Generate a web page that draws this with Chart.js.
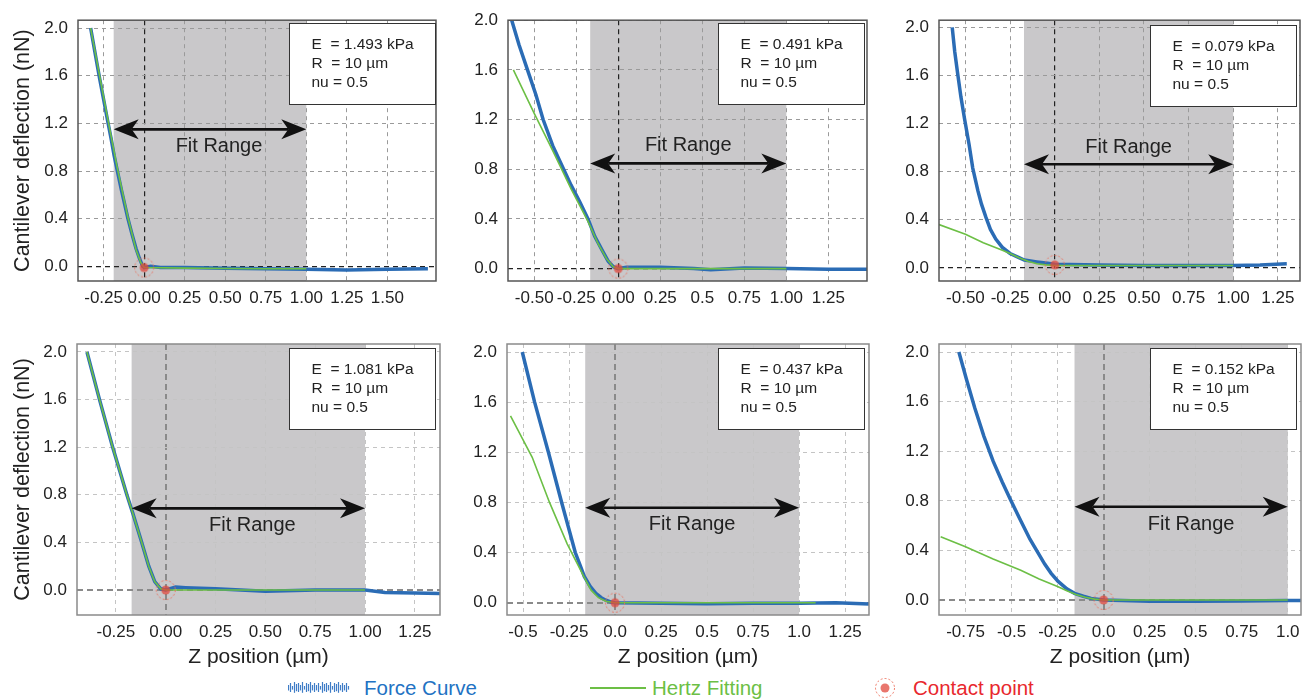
<!DOCTYPE html>
<html>
<head>
<meta charset="utf-8">
<script src="https://cdn.jsdelivr.net/npm/chart.js@4.4.1/dist/chart.umd.min.js"></script>
<style>
  body { margin: 0; background: #fff; width: 1316px; height: 700px; overflow: hidden;
         font-family: "Liberation Sans", Arial, sans-serif; }
  .panel { position: absolute; }
  .leg { position: absolute; font-size: 20.5px; line-height: 24px; top: 676px; white-space: nowrap; }
</style>
</head>
<body>
<canvas id="c1" class="panel"></canvas>
<canvas id="c2" class="panel"></canvas>
<canvas id="c3" class="panel"></canvas>
<canvas id="c4" class="panel"></canvas>
<canvas id="c5" class="panel"></canvas>
<canvas id="c6" class="panel"></canvas>

<canvas id="legForce" class="leg" width="62" height="16" style="left:288px;top:680px"></canvas>
<div class="leg" style="left:364px;color:#2272c3">Force Curve</div>
<div class="leg" style="left:590px;top:687px;width:56px;height:2px;background:#6cbf45"></div>
<div class="leg" style="left:652px;color:#6cbf45">Hertz Fitting</div>
<canvas id="legContact" class="leg" width="24" height="24" style="left:873px;top:676px"></canvas>
<div class="leg" style="left:913px;color:#e8282e">Contact point</div>

<script>
// ---- shared ticks ----
const yTickValues = [0, 0.4, 0.8, 1.2, 1.6, 2.0];
const yTickLabels = ['0.0', '0.4', '0.8', '1.2', '1.6', '2.0'];
const radiusText = '10';
const poissonText = '0.5';

// ---- panel 1 (top left) ----
const xTicks1 = [-0.25, 0, 0.25, 0.5, 0.75, 1.0, 1.25, 1.5];
const xLabels1 = ['-0.25', '0.00', '0.25', '0.50', '0.75', '1.00', '1.25', '1.50'];
const xRange1 = [-0.408, 1.80];
const yRange1 = [-0.123, 2.066];
const force1 = [[-0.33, 2.0], [-0.30, 1.77], [-0.275, 1.58], [-0.25, 1.4], [-0.225, 1.22], [-0.205, 1.08],
  [-0.185, 0.93], [-0.165, 0.8], [-0.14, 0.64], [-0.12, 0.52], [-0.10, 0.4], [-0.075, 0.27], [-0.05, 0.15],
  [-0.03, 0.07], [-0.012, 0.01], [0, -0.01], [0.04, 0.0], [0.1, -0.01], [0.25, -0.01], [0.5, -0.015],
  [0.75, -0.02], [1.0, -0.025], [1.25, -0.03], [1.5, -0.025], [1.75, -0.02]];
const hertz1 = [[-0.33, 2.0], [-0.275, 1.6], [-0.225, 1.24], [-0.165, 0.82], [-0.10, 0.41], [-0.05, 0.14],
  [-0.02, 0.03], [0, -0.01], [0.25, -0.015], [0.5, -0.018], [0.75, -0.02], [1.0, -0.02]];
const contact1 = [[0, -0.01]];
const fitRange1 = [-0.188, 1.0];
const arrowY1 = 1.15;
const modulus1 = '1.493';

// ---- panel 2 (top middle) ----
const xTicks2 = [-0.5, -0.25, 0, 0.25, 0.5, 0.75, 1.0, 1.25];
const xLabels2 = ['-0.50', '-0.25', '0.00', '0.25', '0.5', '0.75', '1.00', '1.25'];
const xRange2 = [-0.656, 1.48];
const yRange2 = [-0.10, 2.0];
const force2 = [[-0.634, 2.0], [-0.59, 1.8], [-0.54, 1.6], [-0.49, 1.4], [-0.447, 1.2], [-0.39, 0.99],
  [-0.325, 0.8], [-0.28, 0.67], [-0.23, 0.54], [-0.18, 0.4], [-0.14, 0.26], [-0.093, 0.14], [-0.06, 0.06],
  [-0.03, 0.015], [0, 0.0], [0.05, 0.01], [0.25, 0.01], [0.45, 0.0], [0.55, -0.01], [0.75, 0.005],
  [1.0, 0.0], [1.25, -0.005], [1.48, -0.005]];
const hertz2 = [[-0.624, 1.6], [-0.5, 1.25], [-0.39, 0.95], [-0.28, 0.64], [-0.18, 0.38], [-0.12, 0.2],
  [-0.07, 0.08], [-0.03, 0.015], [0, 0.0], [1.0, 0.0]];
const contact2 = [[0, 0.0]];
const fitRange2 = [-0.167, 1.0];
const arrowY2 = 0.847;
const modulus2 = '0.491';

// ---- panel 3 (top right) ----
const xTicks3 = [-0.5, -0.25, 0, 0.25, 0.5, 0.75, 1.0, 1.25];
const xLabels3 = ['-0.50', '-0.25', '0.00', '0.25', '0.50', '0.75', '1.00', '1.25'];
const xRange3 = [-0.648, 1.374];
const yRange3 = [-0.109, 2.06];
const force3 = [[-0.574, 2.0], [-0.56, 1.8], [-0.542, 1.6], [-0.525, 1.42], [-0.505, 1.24], [-0.48, 1.03],
  [-0.459, 0.83], [-0.43, 0.64], [-0.41, 0.53], [-0.385, 0.42], [-0.36, 0.32], [-0.33, 0.24], [-0.293, 0.17],
  [-0.25, 0.12], [-0.2, 0.085], [-0.17, 0.065], [-0.1, 0.05], [-0.05, 0.04], [0, 0.03], [0.25, 0.025],
  [0.5, 0.02], [0.75, 0.02], [1.0, 0.02], [1.15, 0.025], [1.3, 0.035]];
const hertz3 = [[-0.648, 0.36], [-0.5, 0.28], [-0.4, 0.21], [-0.3, 0.15], [-0.25, 0.12], [-0.2, 0.085],
  [-0.15, 0.055], [-0.1, 0.035], [-0.05, 0.025], [0, 0.02], [0.5, 0.02], [1.0, 0.02]];
const contact3 = [[0, 0.025]];
const fitRange3 = [-0.172, 1.0];
const arrowY3 = 0.862;
const modulus3 = '0.079';

// ---- panel 4 (bottom left) ----
const xTicks4 = [-0.25, 0, 0.25, 0.5, 0.75, 1.0, 1.25];
const xLabels4 = ['-0.25', '0.00', '0.25', '0.50', '0.75', '1.00', '1.25'];
const xRange4 = [-0.445, 1.376];
const yRange4 = [-0.21, 2.067];
const force4 = [[-0.395, 2.0], [-0.332, 1.6], [-0.266, 1.2], [-0.195, 0.8], [-0.166, 0.65], [-0.124, 0.42],
  [-0.085, 0.2], [-0.055, 0.07], [-0.025, 0.01], [0, 0.0], [0.05, 0.025], [0.1, 0.02], [0.25, 0.01],
  [0.5, -0.01], [0.75, 0.0], [1.0, 0.0], [1.1, -0.02], [1.25, -0.025], [1.376, -0.03]];
const hertz4 = [[-0.395, 2.0], [-0.332, 1.6], [-0.266, 1.2], [-0.195, 0.8], [-0.166, 0.65], [-0.124, 0.42],
  [-0.085, 0.2], [-0.055, 0.07], [-0.025, 0.01], [0, 0.0], [0.5, 0.0], [1.0, 0.0]];
const contact4 = [[0, 0.0]];
const fitRange4 = [-0.171, 1.0];
const arrowY4 = 0.686;
const modulus4 = '1.081';

// ---- panel 5 (bottom middle) ----
const xTicks5 = [-0.5, -0.25, 0, 0.25, 0.5, 0.75, 1.0, 1.25];
const xLabels5 = ['-0.5', '-0.25', '0.0', '0.25', '0.5', '0.75', '1.0', '1.25'];
const xRange5 = [-0.587, 1.38];
const yRange5 = [-0.098, 2.064];
const force5 = [[-0.504, 2.0], [-0.437, 1.6], [-0.362, 1.2], [-0.29, 0.8], [-0.216, 0.4], [-0.19, 0.3],
  [-0.167, 0.21], [-0.135, 0.13], [-0.104, 0.075], [-0.075, 0.04], [-0.05, 0.02], [-0.02, 0.005], [0, 0.0],
  [0.25, -0.005], [0.5, -0.008], [0.75, -0.005], [1.0, -0.005], [1.2, 0.0], [1.38, -0.01]];
const hertz5 = [[-0.568, 1.49], [-0.45, 1.16], [-0.356, 0.8], [-0.26, 0.47], [-0.17, 0.21], [-0.13, 0.1],
  [-0.09, 0.04], [-0.05, 0.012], [0, 0.0], [1.09, 0.0]];
const contact5 = [[0, 0.0]];
const fitRange5 = [-0.162, 1.0];
const arrowY5 = 0.758;
const modulus5 = '0.437';

// ---- panel 6 (bottom right) ----
const xTicks6 = [-0.75, -0.5, -0.25, 0, 0.25, 0.5, 0.75, 1.0];
const xLabels6 = ['-0.75', '-0.5', '-0.25', '0.0', '0.25', '0.5', '0.75', '1.0'];
const xRange6 = [-0.894, 1.072];
const yRange6 = [-0.121, 2.065];
const force6 = [[-0.786, 2.0], [-0.745, 1.78], [-0.70, 1.55], [-0.65, 1.32], [-0.60, 1.12], [-0.55, 0.95],
  [-0.503, 0.8], [-0.45, 0.64], [-0.40, 0.49], [-0.356, 0.38], [-0.32, 0.29], [-0.285, 0.215], [-0.247, 0.15],
  [-0.2, 0.09], [-0.158, 0.054], [-0.11, 0.03], [-0.068, 0.013], [0, 0.0], [0.25, -0.01], [0.5, -0.01],
  [0.75, -0.008], [1.0, -0.005], [1.072, -0.005]];
const hertz6 = [[-0.885, 0.51], [-0.75, 0.43], [-0.6, 0.33], [-0.45, 0.24], [-0.35, 0.17], [-0.247, 0.107],
  [-0.2, 0.075], [-0.15, 0.045], [-0.1, 0.022], [-0.05, 0.007], [0, 0.0], [1.0, 0.0]];
const contact6 = [[0, 0.0]];
const fitRange6 = [-0.158, 1.0];
const arrowY6 = 0.752;
const modulus6 = '0.152';

const FONT = '"Liberation Sans", Arial, sans-serif';
Chart.defaults.font.family = FONT;
Chart.defaults.color = '#222';

const BLUE = '#2b6cb5';
const GREEN = '#6cbf45';

function makeContactIcon(c) {
  c = c || document.createElement('canvas');
  c.width = 24; c.height = 24;
  const g = c.getContext('2d');
  g.setLineDash([2, 2]);
  g.strokeStyle = 'rgba(236,110,90,0.9)';
  g.lineWidth = 1;
  g.beginPath(); g.arc(12, 12, 9.5, 0, Math.PI * 2); g.stroke();
  g.setLineDash([]);
  g.fillStyle = 'rgba(226,72,60,0.75)';
  g.beginPath(); g.arc(12, 12, 4.5, 0, Math.PI * 2); g.fill();
  return c;
}
const contactIcon = makeContactIcon();
makeContactIcon(document.getElementById('legContact'));

// legend icon for the noisy force curve
(function () {
  const g = document.getElementById('legForce').getContext('2d');
  g.strokeStyle = '#3f7dc6';
  g.lineWidth = 1.2;
  const hs = [3, 5, 2, 6, 4, 5, 3, 6, 2, 5, 4, 6, 3, 5];
  for (let i = 0; i < 31; i++) {
    const h = hs[i % hs.length];
    g.beginPath(); g.moveTo(i * 2 + 0.5, 8 - h); g.lineTo(i * 2 + 0.5, 8 + h * 0.8); g.stroke();
  }
})();

function drawHead(ctx, tipX, y, dir) {
  const hl = 25, hw = 10, notch = 7;
  ctx.beginPath();
  ctx.moveTo(tipX, y);
  ctx.lineTo(tipX + dir * hl, y - hw);
  ctx.lineTo(tipX + dir * (hl - notch), y);
  ctx.lineTo(tipX + dir * hl, y + hw);
  ctx.closePath();
  ctx.fill();
}

const panelDecor = {
  id: 'panelDecor',
  beforeDraw(chart, args, o) {
    const { ctx, chartArea: a, scales: { x } } = chart;
    const x0 = Math.max(x.getPixelForValue(o.fit[0]), a.left);
    const x1 = Math.min(x.getPixelForValue(o.fit[1]), a.right);
    ctx.save();
    ctx.fillStyle = '#c9c8ca';
    ctx.fillRect(x0, a.top, x1 - x0, a.bottom - a.top);
    ctx.restore();
  },
  afterDatasetsDraw(chart, args, o) {
    const { ctx, scales: { x, y } } = chart;
    const xa = x.getPixelForValue(o.fit[0]);
    const xb = x.getPixelForValue(o.fit[1]);
    const yy = y.getPixelForValue(o.arrowY);
    ctx.save();
    ctx.strokeStyle = '#111';
    ctx.fillStyle = '#111';
    ctx.lineWidth = 2.6;
    ctx.beginPath(); ctx.moveTo(xa + 18, yy); ctx.lineTo(xb - 18, yy); ctx.stroke();
    drawHead(ctx, xa, yy, 1);
    drawHead(ctx, xb, yy, -1);
    ctx.font = '20px ' + FONT;
    ctx.fillStyle = '#222';
    ctx.textAlign = 'center';
    ctx.textBaseline = 'middle';
    ctx.fillText('Fit Range', (xa + xb) / 2 + o.labelDx, yy + o.labelDy);
    ctx.restore();
  },
  afterDraw(chart, args, o) {
    const { ctx, chartArea: a } = chart;
    ctx.save();
    // frame
    ctx.strokeStyle = o.frame;
    ctx.lineWidth = 1.5;
    ctx.strokeRect(a.left, a.top, a.right - a.left, a.bottom - a.top);
    // parameter box
    const bw = 146, bh = 81;
    const bx = Math.round(a.right - o.boxInset - bw) + 0.5;
    const by = Math.round(a.top + o.boxTop) + 0.5;
    ctx.fillStyle = '#fff';
    ctx.fillRect(bx, by, bw, bh);
    ctx.strokeStyle = '#333';
    ctx.lineWidth = 1;
    ctx.strokeRect(bx, by, bw, bh);
    ctx.fillStyle = '#222';
    ctx.font = '15.5px ' + FONT;
    ctx.textAlign = 'left';
    ctx.textBaseline = 'middle';
    ctx.fillText('E  = ' + o.E + ' kPa', bx + 22, by + 21);
    ctx.fillText('R  = ' + radiusText + ' \u00b5m', bx + 22, by + 40);
    ctx.fillText('nu = ' + poissonText, bx + 22, by + 59);
    ctx.restore();
  }
};

const panels = [
  { id: 'c1', left: 0, top: 0, w: 447, h: 305, yW: 78, padTop: 14, xH: 24, row: 0, yTitle: true, xTitle: false,
    xTicks: xTicks1, xLabels: xLabels1, xRange: xRange1, yRange: yRange1, force: force1, hertz: hertz1,
    contact: contact1, fit: fitRange1, arrowY: arrowY1, labelDy: 17, labelDx: 9, E: modulus1, boxInset: 1, boxTop: 3 },
  { id: 'c2', left: 455, top: 0, w: 423, h: 305, yW: 53, padTop: 15, xH: 24, row: 0, yTitle: false, xTitle: false,
    xTicks: xTicks2, xLabels: xLabels2, xRange: xRange2, yRange: yRange2, force: force2, hertz: hertz2,
    contact: contact2, fit: fitRange2, arrowY: arrowY2, labelDy: -18, labelDx: 0, E: modulus2, boxInset: 3, boxTop: 3 },
  { id: 'c3', left: 885, top: 0, w: 426, h: 305, yW: 54, padTop: 16, xH: 24, row: 0, yTitle: false, xTitle: false,
    xTicks: xTicks3, xLabels: xLabels3, xRange: xRange3, yRange: yRange3, force: force3, hertz: hertz3,
    contact: contact3, fit: fitRange3, arrowY: arrowY3, labelDy: -17, labelDx: 0, E: modulus3, boxInset: 4, boxTop: 5 },
  { id: 'c4', left: 0, top: 320, w: 451, h: 350, yW: 77, padTop: 24, xH: 55, row: 1, yTitle: true, xTitle: true,
    xTicks: xTicks4, xLabels: xLabels4, xRange: xRange4, yRange: yRange4, force: force4, hertz: hertz4,
    contact: contact4, fit: fitRange4, arrowY: arrowY4, labelDy: 17, labelDx: 4, E: modulus4, boxInset: 5, boxTop: 4 },
  { id: 'c5', left: 455, top: 320, w: 425, h: 350, yW: 52, padTop: 24, xH: 55, row: 1, yTitle: false, xTitle: true,
    xTicks: xTicks5, xLabels: xLabels5, xRange: xRange5, yRange: yRange5, force: force5, hertz: hertz5,
    contact: contact5, fit: fitRange5, arrowY: arrowY5, labelDy: 17, labelDx: 0, E: modulus5, boxInset: 5, boxTop: 4 },
  { id: 'c6', left: 885, top: 320, w: 427, h: 350, yW: 54, padTop: 24, xH: 55, row: 1, yTitle: false, xTitle: true,
    xTicks: xTicks6, xLabels: xLabels6, xRange: xRange6, yRange: yRange6, force: force6, hertz: hertz6,
    contact: contact6, fit: fitRange6, arrowY: arrowY6, labelDy: 18, labelDx: 10, E: modulus6, boxInset: 5, boxTop: 4 }
];

function gridStyle(row) {
  const top = row === 0;
  return {
    color: c => (c.tick && c.tick.value === 0) ? (top ? '#222' : '#8a8a8a') : (top ? '#9a9a9a' : '#c4c4c4'),
    lineWidth: c => (c.tick && c.tick.value === 0) ? (top ? 1.2 : 2) : 1,
    drawTicks: false
  };
}
function borderStyle(row) {
  const top = row === 0;
  return {
    display: false,
    dash: c => (c.tick && c.tick.value === 0) ? (top ? [5, 4] : [6, 4]) : [4, 4]
  };
}

panels.forEach(p => {
  const cv = document.getElementById(p.id);
  cv.width = p.w; cv.height = p.h;
  cv.style.left = p.left + 'px'; cv.style.top = p.top + 'px';
  cv.style.width = p.w + 'px'; cv.style.height = p.h + 'px';

  new Chart(cv.getContext('2d'), {
    type: 'scatter',
    data: {
      datasets: [
        // lower order is drawn on top
        { label: 'Force Curve', data: p.force, showLine: true, borderColor: BLUE, borderWidth: 3.5,
          pointRadius: 0, tension: 0, order: 3 },
        { label: 'Hertz Fitting', data: p.hertz, showLine: true, borderColor: GREEN, borderWidth: 1.6,
          pointRadius: 0, tension: 0, order: 2 },
        { label: 'Contact point', data: p.contact, pointStyle: contactIcon, pointRadius: 10, showLine: false,
          order: 1 }
      ]
    },
    plugins: [panelDecor],
    options: {
      responsive: false,
      animation: false,
      events: [],
      layout: { padding: { top: p.padTop, right: 8, left: 0, bottom: 0 } },
      plugins: {
        legend: { display: false },
        tooltip: { enabled: false },
        panelDecor: {
          fit: p.fit, arrowY: p.arrowY, labelDy: p.labelDy, labelDx: p.labelDx, E: p.E,
          boxInset: p.boxInset, boxTop: p.boxTop, frame: p.row === 0 ? '#555' : '#8a8a8a'
        }
      },
      scales: {
        x: {
          type: 'linear', min: p.xRange[0], max: p.xRange[1],
          grid: gridStyle(p.row), border: borderStyle(p.row),
          afterBuildTicks: s => { s.ticks = p.xTicks.map(v => ({ value: v })); },
          afterFit: s => { s.height = p.xH; },
          ticks: { autoSkip: false, maxRotation: 0, padding: 7, color: '#222',
                   font: { size: 17 }, callback: (v, i) => p.xLabels[i] },
          title: { display: p.xTitle, text: 'Z position (\u00b5m)', color: '#222',
                   font: { size: 21 }, padding: { top: 0, bottom: 0 } }
        },
        y: {
          type: 'linear', min: p.yRange[0], max: p.yRange[1],
          grid: gridStyle(p.row), border: borderStyle(p.row),
          afterBuildTicks: s => { s.ticks = yTickValues.map(v => ({ value: v })); },
          afterFit: s => { s.width = p.yW; },
          ticks: { padding: 10, color: '#222', font: { size: 17 }, callback: (v, i) => yTickLabels[i] },
          title: { display: p.yTitle, text: 'Cantilever deflection (nN)', color: '#222',
                   font: { size: 21.5 }, padding: { top: 10, bottom: 0 } }
        }
      }
    }
  });
});
</script>
</body>
</html>
